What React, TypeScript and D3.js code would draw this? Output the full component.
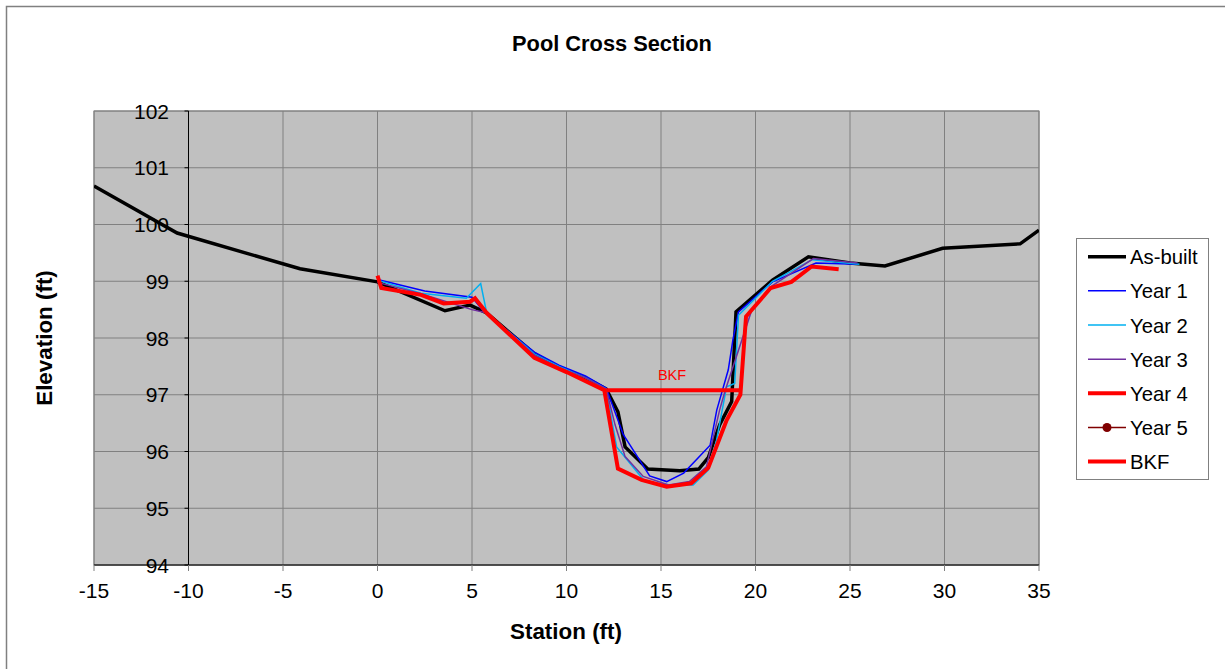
import React from "react";
import * as d3 from "d3";

const xTicks = [-15, -10, -5, 0, 5, 10, 15, 20, 25, 30, 35];
const yTicks = [94, 95, 96, 97, 98, 99, 100, 101, 102];

const asBuiltX = [-15, -10.6, -4.1, 0, 3.57, 4.9, 5.78, 8.3, 9.6, 11, 12.1, 12.72, 13.1, 14.3, 16.0, 17.0, 17.5, 18.1, 18.74, 18.97, 20.9, 22.8, 25.0, 26.85, 29.9, 34.0, 35.0];
const asBuiltY = [100.68, 99.85, 99.22, 98.99, 98.48, 98.58, 98.44, 97.72, 97.48, 97.3, 97.1, 96.7, 96.08, 95.69, 95.66, 95.69, 95.89, 96.47, 96.88, 98.46, 99.02, 99.43, 99.32, 99.27, 99.58, 99.66, 99.9];

const year1X = [0, 2.5, 5.0, 5.6, 8.3, 9.6, 11, 12.1, 13.0, 14.4, 15.3, 16.2, 17.6, 17.95, 18.56, 18.8, 19.1, 20.9, 23.2, 25.4];
const year1Y = [99.03, 98.83, 98.72, 98.47, 97.75, 97.52, 97.33, 97.12, 96.3, 95.57, 95.47, 95.62, 96.11, 96.73, 97.44, 97.96, 98.46, 98.99, 99.32, 99.3];

const year2X = [0, 2.3, 4.7, 5.46, 5.78, 8.3, 9.6, 11, 12.1, 12.65, 14.15, 15.5, 16.7, 17.5, 17.94, 18.47, 18.9, 19.1, 20.9, 23.0, 25.5];
const year2Y = [99.02, 98.79, 98.7, 98.96, 98.44, 97.72, 97.5, 97.3, 97.1, 96.08, 95.47, 95.41, 95.41, 95.67, 96.2, 97.14, 97.2, 98.4, 99.0, 99.38, 99.3];

const year3X = [0, 2.3, 5.0, 5.8, 8.3, 9.6, 11, 12.1, 12.57, 13.1, 14.06, 15.4, 16.5, 17.4, 18.1, 18.4, 19.8, 20.8, 23.06, 25.4];
const year3Y = [98.98, 98.78, 98.5, 98.44, 97.7, 97.48, 97.3, 97.1, 96.47, 95.91, 95.56, 95.41, 95.47, 95.73, 96.73, 97.08, 98.49, 98.9, 99.4, 99.32];

const year4X = [0, 0.2, 2.3, 3.5, 4.9, 5.16, 5.78, 8.3, 10, 12.0, 12.72, 13.97, 15.3, 16.6, 17.5, 18.47, 19.2, 19.5, 20.8, 21.9, 22.97, 24.4];
const year4Y = [99.1, 98.88, 98.76, 98.61, 98.64, 98.7, 98.44, 97.65, 97.4, 97.08, 95.7, 95.5, 95.38, 95.44, 95.71, 96.55, 97.0, 98.38, 98.88, 98.99, 99.26, 99.21];

const bkfX = [12.1, 19.2];
const bkfY = [97.08, 97.08];

const legendNames = ["As-built", "Year 1", "Year 2", "Year 3", "Year 4", "Year 5", "BKF"];

const FONT = "'Liberation Sans', Arial, sans-serif";

export default function App() {
  const left = 94, right = 1039, top = 111, bottom = 565;
  const x = d3.scaleLinear().domain([-15, 35]).range([left, right]);
  const y = d3.scaleLinear().domain([94, 102]).range([bottom, top]);
  const line = (xs: number[], ys: number[]) =>
    d3.line<number>().x((_, i) => x(xs[i])).y((_, i) => y(ys[i]))(xs) || "";

  const series = [
    { name: "As-built", xs: asBuiltX, ys: asBuiltY, color: "#000000", w: 3.5 },
    { name: "Year 1", xs: year1X, ys: year1Y, color: "#0000FF", w: 1.5 },
    { name: "Year 2", xs: year2X, ys: year2Y, color: "#00B0F0", w: 1.5 },
    { name: "Year 3", xs: year3X, ys: year3Y, color: "#7030A0", w: 1.5 },
    { name: "Year 4", xs: year4X, ys: year4Y, color: "#FF0000", w: 4 },
    { name: "BKF", xs: bkfX, ys: bkfY, color: "#FF0000", w: 4 },
  ];

  const legendStyle: Record<string, { color: string; w: number; marker?: boolean }> = {
    "As-built": { color: "#000000", w: 3.5 },
    "Year 1": { color: "#0000FF", w: 1.5 },
    "Year 2": { color: "#00B0F0", w: 1.5 },
    "Year 3": { color: "#7030A0", w: 1.5 },
    "Year 4": { color: "#FF0000", w: 4 },
    "Year 5": { color: "#800000", w: 1.5, marker: true },
    "BKF": { color: "#FF0000", w: 4 },
  };

  return (
    <svg width={1225} height={669} style={{ position: "absolute", left: 0, top: 0, background: "#fff" }} fontFamily={FONT}>
      <rect x={6.5} y={6.5} width={1230} height={680} fill="#fff" stroke="#808080" strokeWidth={1.5} />
      <text x={612} y={51} textAnchor="middle" fontSize={21.8} fontWeight="bold">Pool Cross Section</text>
      <defs>
        <clipPath id="plotclip">
          <rect x={left} y={top} width={right - left} height={bottom - top} />
        </clipPath>
      </defs>
      <rect x={left} y={top} width={right - left} height={bottom - top} fill="#C0C0C0" stroke="#808080" strokeWidth={1} />
      {xTicks.map((t) => (
        <line key={"gx" + t} x1={x(t)} x2={x(t)} y1={top} y2={bottom} stroke="#808080" strokeWidth={1} />
      ))}
      {yTicks.map((t) => (
        <line key={"gy" + t} x1={left} x2={right} y1={y(t)} y2={y(t)} stroke="#808080" strokeWidth={1} />
      ))}
      <line x1={x(-10)} x2={x(-10)} y1={top} y2={bottom} stroke="#000" strokeWidth={1} />
      {yTicks.map((t) => (
        <line key={"ty" + t} x1={x(-10) - 4} x2={x(-10)} y1={y(t)} y2={y(t)} stroke="#000" strokeWidth={1} />
      ))}
      <line x1={left} x2={right} y1={bottom} y2={bottom} stroke="#000" strokeWidth={1} />
      {xTicks.map((t) => (
        <line key={"tx" + t} x1={x(t)} x2={x(t)} y1={bottom} y2={bottom + 6} stroke="#808080" strokeWidth={1} />
      ))}
      <g clipPath="url(#plotclip)">
        {series.map((s) => (
          <path key={s.name} d={line(s.xs, s.ys)} fill="none" stroke={s.color} strokeWidth={s.w} strokeLinejoin="miter" />
        ))}
      </g>
      <text x={672} y={380} textAnchor="middle" fontSize={14.5} fill="#FF0000">BKF</text>
      {yTicks.map((t) => (
        <text key={"ly" + t} x={169} y={y(t) + 7.5} textAnchor="end" fontSize={21}>{t}</text>
      ))}
      {xTicks.map((t) => (
        <text key={"lx" + t} x={x(t)} y={598} textAnchor="middle" fontSize={21}>{t}</text>
      ))}
      <text x={566} y={639} textAnchor="middle" fontSize={22.4} fontWeight="bold">Station (ft)</text>
      <text transform="translate(52,338) rotate(-90)" textAnchor="middle" fontSize={22.4} fontWeight="bold">Elevation (ft)</text>
      <rect x={1076.5} y={238.5} width={132} height={241} fill="#fff" stroke="#808080" strokeWidth={1} />
      {legendNames.map((n, i) => {
        const st = legendStyle[n];
        const ly = 256.7 + i * 34.15;
        return (
          <g key={"lg" + n}>
            <line x1={1088} x2={1126} y1={ly} y2={ly} stroke={st.color} strokeWidth={st.w} />
            {st.marker && <circle cx={1107} cy={ly} r={4.5} fill={st.color} />}
            <text x={1130} y={ly + 7.5} fontSize={20.3}>{n}</text>
          </g>
        );
      })}
    </svg>
  );
}
